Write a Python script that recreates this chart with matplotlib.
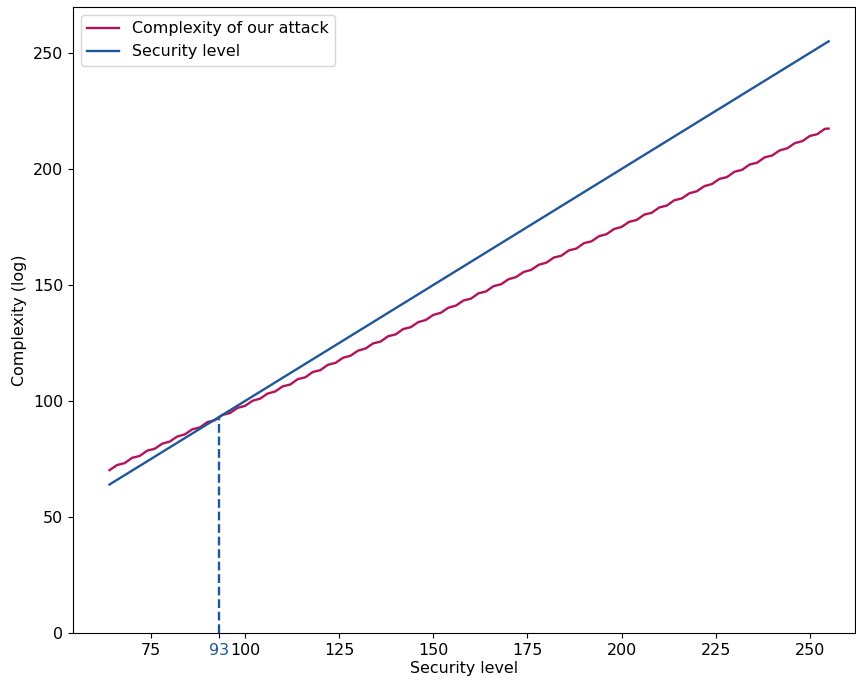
import matplotlib
matplotlib.use("Agg")
import matplotlib.pyplot as plt

# Data
attack_x = list(range(64, 256, 2)) + [255]
attack_y = [70.2, 72.4, 73.2, 75.5, 76.3, 78.6, 79.4, 81.6, 82.5, 84.7,
            85.6, 87.8, 88.6, 90.9, 91.7, 94.0, 94.8, 97.0, 97.9, 100.1,
            101.0, 103.2, 104.1, 106.3, 107.1, 109.4, 110.2, 112.5, 113.3, 115.6,
            116.4, 118.6, 119.5, 121.7, 122.6, 124.8, 125.6, 127.9, 128.7, 131.0,
            131.8, 134.0, 134.9, 137.1, 138.0, 140.2, 141.1, 143.3, 144.1, 146.4,
            147.2, 149.5, 150.3, 152.5, 153.4, 155.6, 156.5, 158.7, 159.6, 161.8,
            162.6, 164.9, 165.7, 168.0, 168.8, 171.0, 171.9, 174.1, 175.0, 177.2,
            178.0, 180.3, 181.1, 183.4, 184.2, 186.5, 187.3, 189.5, 190.4, 192.6,
            193.5, 195.7, 196.5, 198.8, 199.6, 201.9, 202.7, 205.0, 205.8, 208.0,
            208.9, 211.1, 212.0, 214.2, 215.0, 217.3, 217.4]
security_x = [64, 255]
security_y = [64, 255]
cross_x = 93
cross_y = 93
xticks = [75, 100, 125, 150, 175, 200, 225, 250]
yticks = [0, 50, 100, 150, 200, 250]

red = "#b3135b"
blue = "#1f5799"

plt.rcParams['font.size'] = 11.4

fig = plt.figure(figsize=(8.56, 6.83), dpi=100)
ax = fig.add_axes([73/856, 1-633/683, (855-73)/856, (633-7)/683])

ax.plot(attack_x, attack_y, color=red, lw=1.7, label="Complexity of our attack")
ax.plot(security_x, security_y, color=blue, lw=1.7, label="Security level")
ax.vlines(cross_x, 0, cross_y, colors=blue, linestyles="--", lw=1.7)

ax.set_xlim(54.3, 262.0)
ax.set_ylim(0, 269.8)
ticks = sorted(xticks + [cross_x])
ax.set_xticks(ticks)
ax.set_xticklabels([str(t) for t in ticks])
for lbl, t in zip(ax.get_xticklabels(), ticks):
    if t == cross_x:
        lbl.set_color(blue)
ax.set_yticks(yticks)
ax.set_xlabel("Security level", labelpad=2)
ax.set_ylabel("Complexity (log)")
ax.legend(loc="upper left")

fig.savefig("out.png", dpi=100)
